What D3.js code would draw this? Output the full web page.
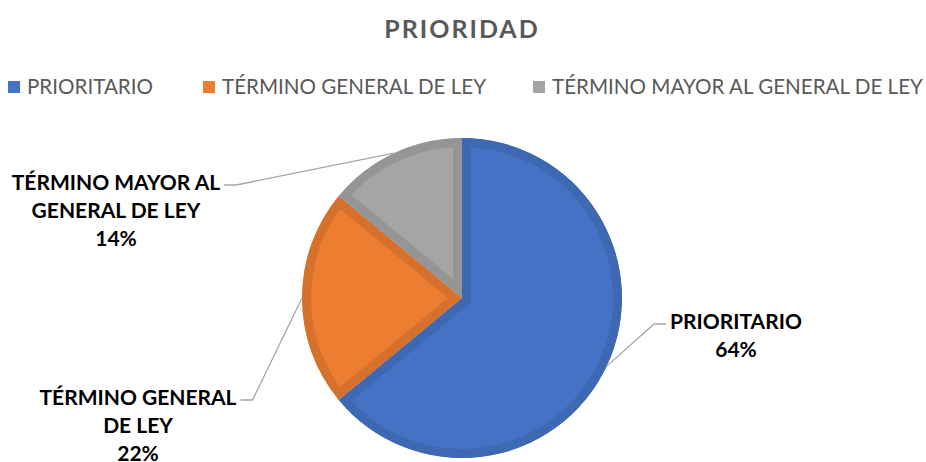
<!DOCTYPE html>
<html>
<head>
<meta charset="utf-8">
<script src="https://cdn.jsdelivr.net/npm/d3@7"></script>
<style>
  body { margin: 0; background: #fff; }
  svg { display: block; }
</style>
</head>
<body>
<div id="chart"></div>
<script>
"use strict";
const categories = ["PRIORITARIO", "TÉRMINO GENERAL DE LEY", "TÉRMINO MAYOR AL GENERAL DE LEY"];
const values = [64, 22, 14];
const labelLines = [["PRIORITARIO"], ["TÉRMINO GENERAL", "DE LEY"], ["TÉRMINO MAYOR AL", "GENERAL DE LEY"]];
const fills = ["#4472C4", "#ED7D31", "#A5A5A5"];
const borders = ["#3F68B3", "#D5712C", "#959595"];

const width = 926, height = 462;
const cx = 462, cy = 298, radius = 160;

const svg = d3.select("#chart").append("svg")
    .attr("width", width)
    .attr("height", height)
    .attr("viewBox", [0, 0, width, height]);

svg.append("text")
    .attr("x", cx)
    .attr("y", 38)
    .attr("text-anchor", "middle")
    .style("font-family", "Lato, 'Open Sans', sans-serif")
    .style("font-size", "25px")
    .style("font-weight", "bold")
    .style("letter-spacing", "2px")
    .style("fill", "#595959")
    .text("PRIORIDAD");

// legend
const legendX = [8, 203, 533];
const legend = svg.selectAll(".legend")
    .data(categories)
    .join("g")
    .attr("class", "legend")
    .attr("transform", (d, i) => `translate(${legendX[i]}, 87)`);

legend.append("rect")
    .attr("x", 0)
    .attr("y", -6)
    .attr("width", 12)
    .attr("height", 12)
    .attr("fill", (d, i) => fills[i]);

legend.append("text")
    .attr("x", 19)
    .attr("y", 7)
    .style("font-family", "Lato, sans-serif")
    .style("font-size", "20.6px")
    .style("fill", "#595959")
    .text(d => d);

// pie
const pie = d3.pie().sort(null).value(d => d);
const arcs = pie(values);
const arc = d3.arc().innerRadius(0).outerRadius(radius);

const g = svg.append("g").attr("transform", `translate(${cx},${cy})`);
const defs = svg.append("defs");

arcs.forEach((a, i) => {
    defs.append("clipPath").attr("id", "clip" + i)
      .append("path").attr("d", arc(a));
});

g.selectAll("path.slice")
    .data(arcs)
    .join("path")
    .attr("class", "slice")
    .attr("d", arc)
    .attr("fill", (d, i) => fills[i])
    .attr("stroke", (d, i) => borders[i])
    .attr("stroke-width", 18)
    .attr("stroke-linejoin", "miter")
    .attr("clip-path", (d, i) => `url(#clip${i})`);

// data labels with leader lines
const labelPos = [
    {x: 736, y: 329, side: "right"},
    {x: 138, y: 405, side: "left"},
    {x: 116, y: 190, side: "left"}
];
const lineH = 28;

arcs.forEach((a, i) => {
    const mid = (a.startAngle + a.endAngle) / 2;
    const px = cx + radius * Math.sin(mid);
    const py = cy - radius * Math.cos(mid);
    const p = labelPos[i];
    const lines = labelLines[i].concat([Math.round(values[i]) + "%"]);

    const t = svg.append("text")
        .attr("text-anchor", "middle")
        .style("font-family", "Lato, sans-serif")
        .style("font-size", "21px")
        .style("font-weight", "bold")
        .style("fill", "#000");
    lines.forEach((l, k) => {
        t.append("tspan").attr("x", p.x).attr("y", p.y + k * lineH).text(l);
    });
    const w = t.select("tspan").node().getComputedTextLength();
    const ex = p.side === "right" ? p.x - w / 2 - 4 : p.x + w / 2 + 4;
    const kx = p.side === "right" ? ex - 12 : ex + 12;
    const ly = p.y - 5;
    svg.append("path")
        .attr("d", d3.line()([[ex, ly], [kx, ly], [px, py]]))
        .attr("fill", "none")
        .attr("stroke", "#A6A6A6")
        .attr("stroke-width", 1.3);
});
</script>
</body>
</html>
